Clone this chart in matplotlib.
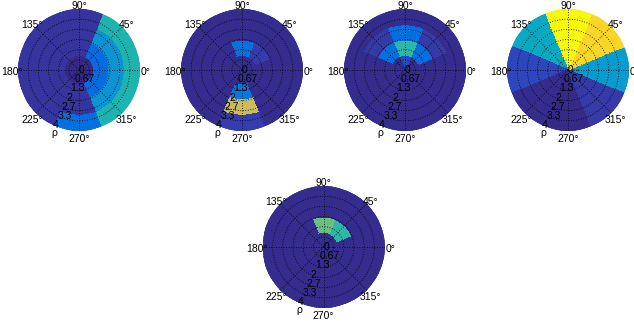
import numpy as np
import matplotlib
matplotlib.use('Agg')
import matplotlib.pyplot as plt
from matplotlib.colors import LinearSegmentedColormap
from matplotlib.transforms import offset_copy

plt.rcParams['font.family'] = ['Liberation Sans', 'DejaVu Sans']

# parula (MATLAB default colormap), sampled
parula_pts = [
    (0.2081, 0.1663, 0.5292), (0.2081, 0.2386, 0.6771), (0.1253, 0.3242, 0.8303),
    (0.0165, 0.4266, 0.8786), (0.0723, 0.4887, 0.8467), (0.0749, 0.5375, 0.8263),
    (0.0343, 0.5966, 0.8199), (0.0231, 0.6418, 0.7913), (0.0384, 0.6743, 0.7436),
    (0.1133, 0.7015, 0.6859), (0.2178, 0.7250, 0.6193), (0.3482, 0.7424, 0.5473),
    (0.4871, 0.7491, 0.4840), (0.6099, 0.7473, 0.4337), (0.7184, 0.7411, 0.3905),
    (0.8185, 0.7327, 0.3498), (0.9139, 0.7258, 0.3063), (0.9938, 0.7455, 0.2403),
    (0.9880, 0.8066, 0.1794), (0.9626, 0.8705, 0.1309), (0.9661, 0.9514, 0.0755),
    (0.9763, 0.9831, 0.0538),
]
parula = LinearSegmentedColormap.from_list('parula', parula_pts)

# sectors centred on these angles, rings between these radii
angles_deg = [0, 45, 90, 135, 180, 225, 270, 315]
r_edges = [0, 1, 2, 3, 4]
rho_ticks = [0, 0.67, 1.3, 2, 2.7, 3.3, 4]
rho_labels = ['0', '0.67', '1.3', '2', '2.7', '3.3', '4']

# colour level per cell (rows: inner -> outer ring, cols: angles_deg)
panel1 = [
    [0.00, 0.00, 0.00, 0.00, 0.00, 0.00, 0.00, 0.00],
    [0.14, 0.14, 0.03, 0.03, 0.03, 0.03, 0.03, 0.14],
    [0.27, 0.27, 0.03, 0.03, 0.03, 0.03, 0.03, 0.27],
    [0.43, 0.43, 0.03, 0.03, 0.03, 0.03, 0.15, 0.43],
]
panel2 = [
    [0.01, 0.01, 0.01, 0.01, 0.01, 0.01, 0.01, 0.01],
    [0.01, 0.05, 0.16, 0.01, 0.01, 0.01, 0.17, 0.01],
    [0.01, 0.01, 0.01, 0.01, 0.01, 0.01, 0.70, 0.01],
    [0.01, 0.01, 0.01, 0.01, 0.01, 0.01, 0.05, 0.01],
]
panel3 = [
    [0.01, 0.01, 0.08, 0.01, 0.01, 0.01, 0.01, 0.01],
    [0.01, 0.15, 0.46, 0.15, 0.01, 0.01, 0.01, 0.01],
    [0.01, 0.04, 0.15, 0.04, 0.01, 0.01, 0.01, 0.01],
    [0.01, 0.01, 0.01, 0.01, 0.01, 0.01, 0.01, 0.01],
]
sector4 = [0.30, 0.88, 0.98, 0.37, 0.07, 0.01, 0.00, 0.04]
panel4 = [sector4] * 4
panel5 = [
    [0.01, 0.01, 0.01, 0.01, 0.01, 0.01, 0.01, 0.01],
    [0.01, 0.46, 0.55, 0.01, 0.01, 0.01, 0.01, 0.01],
    [0.01, 0.01, 0.01, 0.01, 0.01, 0.01, 0.01, 0.01],
    [0.01, 0.01, 0.01, 0.01, 0.01, 0.01, 0.01, 0.01],
]
panels = [panel1, panel2, panel3, panel4, panel5]

W, H = 634, 331
R = 61
centres = [(79, 70), (242, 70), (405, 70), (568, 70), (323.5, 247)]

fig = plt.figure(figsize=(W / 100, H / 100), dpi=100)

# split every sector into thin slices so the rings come out round
sub = 20
theta_edges = np.deg2rad(np.linspace(-22.5, 337.5, len(angles_deg) * sub + 1))
T, RR = np.meshgrid(theta_edges, r_edges)
circ = np.linspace(0, 2 * np.pi, 361)
dots = dict(color='k', lw=0.6, linestyle=(0, (1, 2)))

for (cx, cy), vals in zip(centres, panels):
    ax = fig.add_axes([(cx - R) / W, 1 - (cy + R) / H, 2 * R / W, 2 * R / H],
                      projection='polar')
    C = np.repeat(np.array(vals), sub, axis=1)
    ax.pcolormesh(T, RR, C, cmap=parula, vmin=0, vmax=1,
                  shading='flat', edgecolors='face', linewidth=0.2)
    ax.set_ylim(0, 4)
    ax.axis('off')

    for k in range(1, 6):
        ax.plot(circ, np.full_like(circ, 4 * k / 6), **dots)
    for a in angles_deg:
        ax.plot([np.deg2rad(a)] * 2, [0, 4], **dots)

    lower = offset_copy(ax.transData, fig=fig, x=0, y=-2.5, units='dots')
    for a in angles_deg:
        ax.text(np.deg2rad(a), 4.38, f'{a}\u00b0', ha='center', va='center',
                fontsize=7.5, transform=lower)
    for v, lab in zip(rho_ticks, rho_labels):
        ax.text(np.deg2rad(245), v, lab, ha='left', va='center', fontsize=7.5)
    ax.text(np.deg2rad(249), 4.45, '\u03c1', ha='center', va='center',
            fontsize=7.5)

fig.savefig('out.png', dpi=100)
